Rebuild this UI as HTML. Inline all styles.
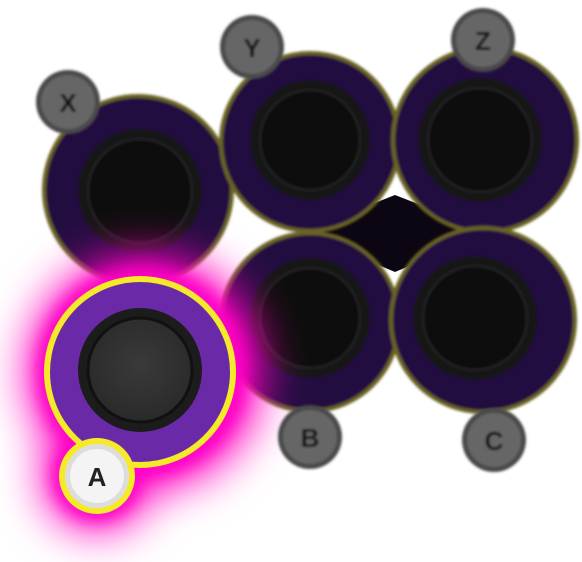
<!DOCTYPE html>
<html><head><meta charset="utf-8"><style>
html,body{margin:0;padding:0;background:#fff;}
svg{display:block}
text{font-family:"Liberation Sans",sans-serif;font-weight:bold;font-size:26px;}
</style></head><body>
<svg width="582" height="562" viewBox="0 0 582 562">
<defs>
<filter id="blur" x="-60%" y="-60%" width="220%" height="220%"><feGaussianBlur stdDeviation="22"/></filter>
<filter id="blur2" x="-50%" y="-50%" width="200%" height="200%"><feGaussianBlur stdDeviation="8"/></filter>
<filter id="soft"><feGaussianBlur stdDeviation="1.2"/></filter>
<radialGradient id="cap" cx="50%" cy="45%" r="55%"><stop offset="0" stop-color="#3a3a3a"/><stop offset="1" stop-color="#2a2a2a"/></radialGradient>
</defs>
<polygon points="300,232 395,195 490,232 395,272" fill="#0c0612"/>
<g filter="url(#soft)">
<g>
<circle cx="138" cy="190" r="96" fill="#6b6420"/><circle cx="138" cy="190" r="92" fill="#22093f"/>
<circle cx="140" cy="191" r="62" fill="#141414"/><circle cx="140" cy="191" r="52" fill="#0b0b0b" stroke="#262626" stroke-width="2"/></g>
<g>
<circle cx="310" cy="142" r="91" fill="#6b6420"/><circle cx="310" cy="142" r="87" fill="#22093f"/>
<circle cx="310" cy="140" r="60" fill="#141414"/><circle cx="310" cy="140" r="50" fill="#0b0b0b" stroke="#262626" stroke-width="2"/></g>
<g>
<circle cx="485" cy="140" r="94" fill="#6b6420"/><circle cx="485" cy="140" r="90" fill="#22093f"/>
<circle cx="480" cy="140" r="62" fill="#141414"/><circle cx="480" cy="140" r="52" fill="#0b0b0b" stroke="#262626" stroke-width="2"/></g>
<g>
<circle cx="310" cy="322" r="91" fill="#6b6420"/><circle cx="310" cy="322" r="87" fill="#22093f"/>
<circle cx="310" cy="318" r="60" fill="#141414"/><circle cx="310" cy="318" r="50" fill="#0b0b0b" stroke="#262626" stroke-width="2"/></g>
<g>
<circle cx="483" cy="320" r="94" fill="#6b6420"/><circle cx="483" cy="320" r="90" fill="#22093f"/>
<circle cx="475" cy="318" r="62" fill="#141414"/><circle cx="475" cy="318" r="52" fill="#0b0b0b" stroke="#262626" stroke-width="2"/></g>
</g>
<g>
<g filter="url(#blur)"><circle cx="145" cy="372" r="118" fill="#ff00c0"/><circle cx="97" cy="476" r="55" fill="#ff00c0"/></g>
<g filter="url(#blur2)"><circle cx="142" cy="372" r="104" fill="#ff00c8"/><circle cx="97" cy="476" r="44" fill="#ff00c8"/></g>
</g>
<g>
<circle cx="140" cy="372" r="96" fill="#f5ea2a"/><circle cx="140" cy="372" r="90" fill="#6a2aa8"/>
<circle cx="140" cy="370" r="62" fill="#1c1c1c"/><circle cx="140" cy="370" r="52" fill="url(#cap)" stroke="#111" stroke-width="3"/></g>
<g filter="url(#soft)">
<g><circle cx="68" cy="102" r="32" fill="#4a4a4a"/><circle cx="68" cy="102" r="27" fill="#666"/><text x="68" y="112" text-anchor="middle" fill="#111">X</text></g>
<g><circle cx="252" cy="47" r="32" fill="#4a4a4a"/><circle cx="252" cy="47" r="27" fill="#666"/><text x="252" y="57" text-anchor="middle" fill="#111">Y</text></g>
<g><circle cx="483" cy="40" r="32" fill="#4a4a4a"/><circle cx="483" cy="40" r="27" fill="#666"/><text x="483" y="50" text-anchor="middle" fill="#111">Z</text></g>
<g><circle cx="310" cy="437" r="32" fill="#4a4a4a"/><circle cx="310" cy="437" r="27" fill="#666"/><text x="310" y="447" text-anchor="middle" fill="#111">B</text></g>
<g><circle cx="494" cy="440" r="32" fill="#4a4a4a"/><circle cx="494" cy="440" r="27" fill="#666"/><text x="494" y="450" text-anchor="middle" fill="#111">C</text></g>
</g>
<g><circle cx="97" cy="476" r="38" fill="#f5ea2a"/><circle cx="97" cy="476" r="32" fill="#ddd"/><circle cx="97" cy="476" r="27" fill="#f4f4f4"/><text x="97" y="486" text-anchor="middle" fill="#222">A</text></g>
</svg>
</body></html>
